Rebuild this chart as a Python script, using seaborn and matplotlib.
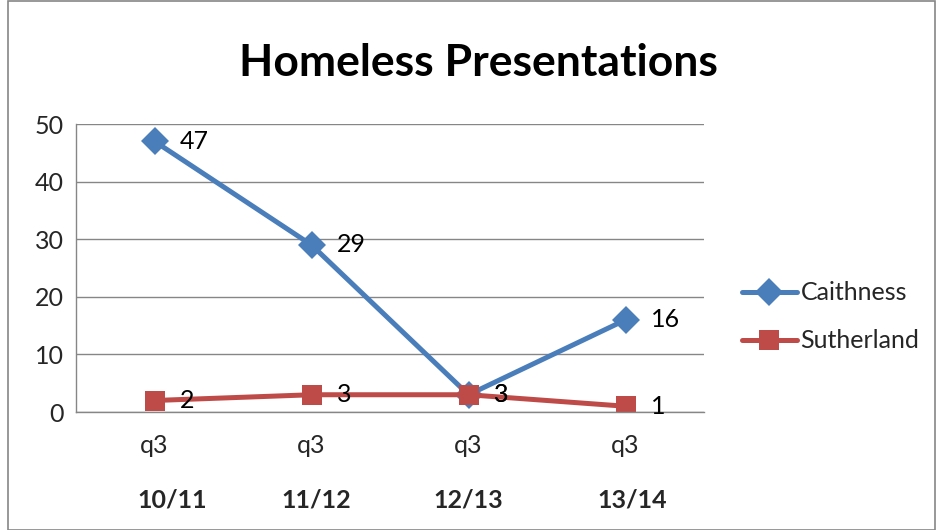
import seaborn as sns
import pandas as pd
import matplotlib.pyplot as plt
from matplotlib.patches import Rectangle

periods = ['10/11', '11/12', '12/13', '13/14']
quarter = ['q3', 'q3', 'q3', 'q3']
caithness = [47, 29, 3, 16]
sutherland = [2, 3, 3, 1]

df = pd.DataFrame({
    'period': periods * 2,
    'value': caithness + sutherland,
    'area': ['Caithness'] * 4 + ['Sutherland'] * 4,
})

sns.set_style("white")
plt.rcParams['font.family'] = ['Lato', 'DejaVu Sans']

colors = {'Caithness': '#4A7EBB', 'Sutherland': '#BE4B48'}
markers = {'Caithness': 'D', 'Sutherland': 's'}

fig = plt.figure(figsize=(9.36, 5.30), dpi=100)
ax = fig.add_axes([0.0812, 0.2226, 0.6710, 0.5434])

sns.lineplot(data=df, x='period', y='value', hue='area', style='area',
             palette=colors, markers=markers, dashes=False, linewidth=3.6,
             markersize=14, markeredgewidth=0, ax=ax)

# data labels
for name, vals in [('Caithness', caithness), ('Sutherland', sutherland)]:
    for i, v in enumerate(vals):
        ax.annotate(str(v), (i, v), xytext=(18, 0), textcoords='offset points',
                    va='center', ha='left', fontsize=18, color='black')

ax.set_xlim(-0.5, 3.5)
ax.set_ylim(0, 50)
ax.set_yticks([0, 10, 20, 30, 40, 50])
ax.yaxis.grid(True, color='#868686', linewidth=1)
ax.set_axisbelow(True)
ax.set_xticks(range(len(periods)))
ax.set_xticklabels(quarter)
ax.set_xticks([-0.5, 0.5, 1.5, 2.5, 3.5], minor=True)
ax.tick_params(axis='x', which='major', length=0, pad=16, labelsize=18)
ax.tick_params(axis='x', which='minor', length=6, color='#868686', width=1)
ax.tick_params(axis='y', length=6, color='#868686', width=1, labelsize=18, pad=3)
for side in ['top', 'right']:
    ax.spines[side].set_visible(False)
for side in ['left', 'bottom']:
    ax.spines[side].set_color('#868686')
    ax.spines[side].set_linewidth(1)
ax.set_xlabel('')
ax.set_ylabel('')

# period labels under the quarter labels
offsets = [0.11, 0.03, 0.0, 0.04]
for i, p in enumerate(periods):
    ax.text(i + offsets[i], -0.306, p, transform=ax.get_xaxis_transform(),
            ha='center', va='center', fontsize=18, fontweight='bold')

fig.text(0.511, 0.882, 'Homeless Presentations', ha='center', va='center',
         fontsize=32, fontweight='bold', color='black')

handles, labels = ax.get_legend_handles_labels()
ax.legend(handles, labels, loc='center left', bbox_to_anchor=(1.06, 0.33),
          frameon=False, fontsize=18, handlelength=2.2, handletextpad=0.15,
          labelspacing=1.0, borderaxespad=0, borderpad=0)

fig.patches.append(Rectangle((0.009, 0.0), 0.99, 0.998, transform=fig.transFigure,
                             fill=False, edgecolor='#868686', linewidth=1.2))

fig.savefig('out.png', dpi=100)
